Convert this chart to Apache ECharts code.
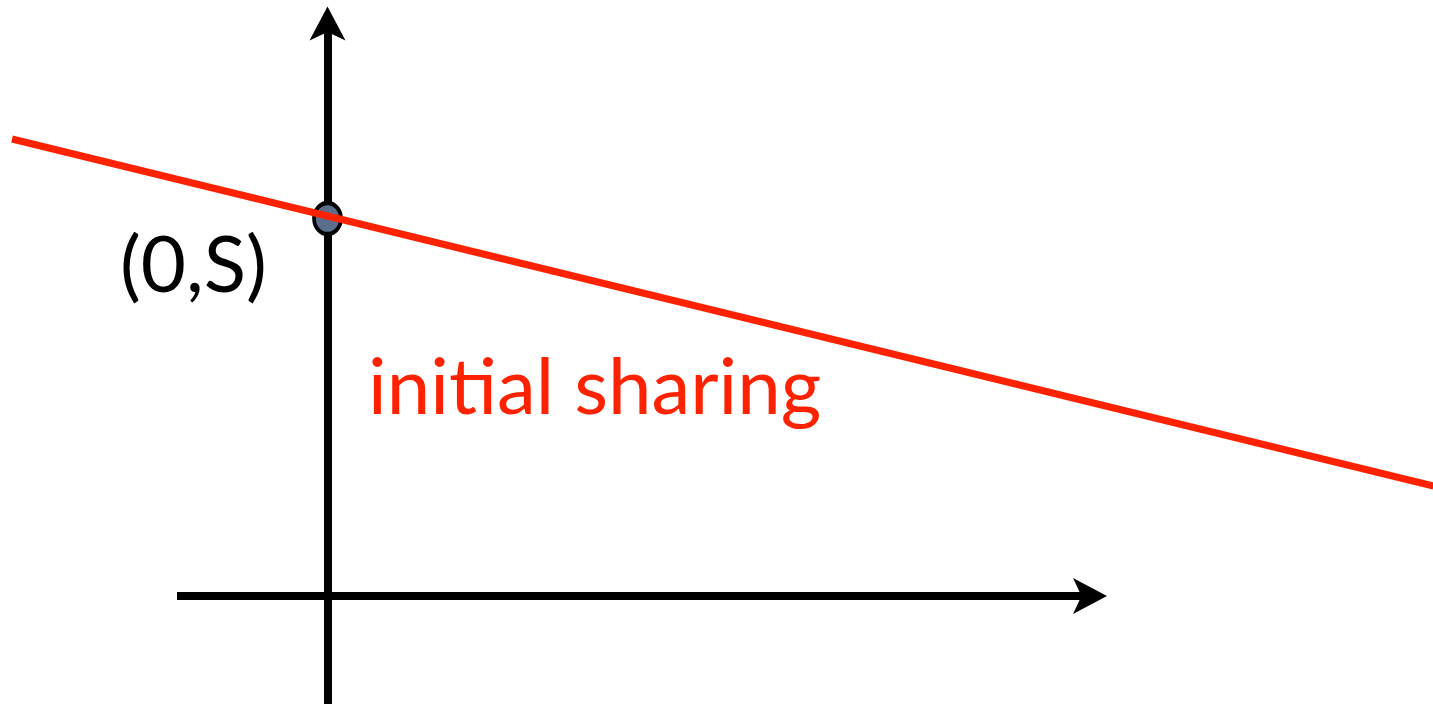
<!DOCTYPE html>
<html>
<head>
<meta charset="utf-8">
<style>
  html, body { margin: 0; padding: 0; background: #ffffff; }
  #chart { width: 1433px; height: 704px; }
</style>
<script src="https://cdn.jsdelivr.net/npm/echarts@6/dist/echarts.min.js"></script>
</head>
<body>
<div id="chart"></div>
<script>
// Data (abstract units, origin at axes crossing)
const sharingLine = [[-3.155, 4.57], [11.06, 1.10]];
const interceptPoint = [[0, 3.775]];
const interceptLabel = ['(0,S)'];
const interceptLabelPos = [[-2.075, 3.29]];
const lineLabel = ['initial sharing'];
const lineLabelPos = [[0.405, 2.07]];
const xAxisArrow = [[-1.505, 0], [7.625, 0]];
const yAxisArrow = [[0, -1.08], [0, 5.725]];
const xRange = [-3.275, 11.055];
const yRange = [-1.08, 5.96];

const chart = echarts.init(document.getElementById('chart'));
const fontFamily = 'Lato, "Noto Sans", sans-serif';

function arrowLine(pts) {
  return [{ coord: pts[0] }, { coord: pts[1] }];
}

chart.setOption({
  animation: false,
  backgroundColor: '#ffffff',
  grid: { left: 0, right: 0, top: 0, bottom: 0, containLabel: false },
  xAxis: {
    type: 'value', min: xRange[0], max: xRange[1], show: false,
    splitLine: { show: false }
  },
  yAxis: {
    type: 'value', min: yRange[0], max: yRange[1], show: false,
    splitLine: { show: false }
  },
  series: [
    {
      type: 'line', z: 1, data: [], silent: true,
      markLine: {
        z: 1, silent: true, animation: false,
        symbol: ['none', 'arrow'], symbolSize: [27, 34],
        symbolOffset: [0, [0, -17]],
        label: { show: false },
        lineStyle: { color: '#000000', width: 8, type: 'solid', cap: 'butt' },
        emphasis: { disabled: true },
        data: [arrowLine(xAxisArrow), arrowLine(yAxisArrow)]
      }
    },
    {
      type: 'scatter', z: 6,
      data: interceptPoint,
      symbol: 'circle', symbolSize: [27, 31],
      itemStyle: { color: '#5b6f8d', borderColor: '#000000', borderWidth: 4, opacity: 1 },
      silent: true
    },
    {
      type: 'line', z: 7,
      data: sharingLine,
      showSymbol: false, symbol: 'none',
      lineStyle: { color: '#ff2200', width: 7, cap: 'butt' },
      silent: true
    },
    {
      type: 'scatter', z: 8,
      data: interceptLabelPos.map((p, i) => ({ value: p, name: interceptLabel[i] })),
      symbolSize: 0,
      itemStyle: { color: 'transparent', opacity: 1 },
      label: { show: true, position: 'right', distance: 0, formatter: '{b}',
        color: '#000000', fontSize: 78, fontFamily: fontFamily },
      silent: true
    },
    {
      type: 'scatter', z: 8,
      data: lineLabelPos.map((p, i) => ({ value: p, name: lineLabel[i] })),
      symbolSize: 0,
      itemStyle: { color: 'transparent', opacity: 1 },
      label: { show: true, position: 'right', distance: 0, formatter: '{b}',
        color: '#ff2200', fontSize: 78, fontFamily: fontFamily },
      silent: true
    }
  ]
});
</script>
</body>
</html>
